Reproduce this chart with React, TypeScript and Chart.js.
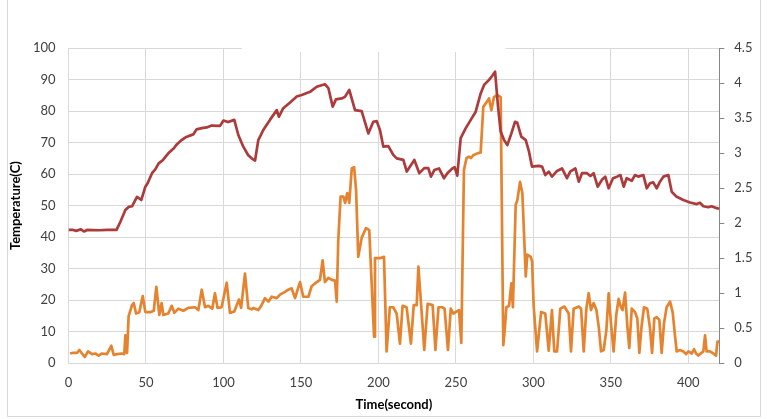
import React, { useEffect, useRef } from "react";
import { Chart, registerables } from "chart.js";

Chart.register(...registerables);

// X axis ticks (seconds)
const xTickValues = [0, 50, 100, 150, 200, 250, 300, 350, 400];

// Temperature series (left axis)
const tempTime = [0, 3, 5, 8, 10, 12, 20, 25, 31, 33.5, 36.7, 38.8, 41, 44.2, 47, 49.6, 51, 53.9, 56, 58.2, 61, 64.4, 68, 70, 73, 76, 80.5, 82.7, 86, 89.2, 92.4, 97.8, 100, 103, 107, 109.6, 112.8, 116, 118.2, 120.4, 122.5, 125.7, 130, 134.4, 135.8, 138.6, 143, 147.3, 150.5, 155.9, 160.2, 165.5, 167.7, 170.5, 172.6, 176.3, 178.4, 181.2, 184.9, 189.2, 193.5, 196.7, 198.9, 201, 203.2, 206.4, 209.6, 211.8, 216.1, 218.3, 220.4, 223.2, 226.4, 229.6, 232.2, 233.9, 236.1, 239.1, 242.3, 244.5, 247.7, 249.2, 250.9, 253.1, 256.3, 259.6, 262.8, 266, 268.2, 271.4, 273.5, 275.3, 277.2, 278.9, 281.1, 283.2, 285.8, 288.2, 289.6, 292.2, 295.1, 297.2, 299.1, 303.4, 305.6, 307.7, 309.9, 312, 315.3, 318.5, 321.7, 323.8, 327.1, 329.3, 331.4, 334.6, 336.8, 338.9, 341.5, 344.3, 346.4, 348.6, 351.4, 354, 356.2, 358.3, 360.2, 363.5, 365.6, 367.7, 371, 373.2, 375.3, 377.4, 379.6, 381.7, 383.9, 387.1, 389.3, 392.5, 396.8, 401.1, 405.4, 407.5, 409.7, 412.9, 415, 418.3, 420];
const tempValue = [42.3, 42.3, 42, 42.5, 41.8, 42.3, 42.2, 42.3, 42.3, 44.9, 48.6, 49.6, 49.8, 52.8, 51.8, 56, 57, 60.3, 61.5, 63.4, 64.5, 66.6, 68.2, 69.5, 70.8, 71.8, 72.6, 74.2, 74.6, 74.8, 75.4, 75.3, 77, 76.5, 77.2, 72.4, 68.7, 66, 65, 64.3, 70.8, 74, 77.2, 80.3, 78.2, 80.9, 82.7, 84.6, 85.1, 86.1, 87.7, 88.5, 87.3, 81.4, 83.7, 84, 84.5, 86.7, 80.3, 80, 72.9, 76.6, 76.8, 74, 68.7, 68.9, 66.1, 65, 64.5, 60.8, 62.4, 64.5, 60.3, 61.9, 61.9, 59.2, 61.3, 61.8, 58.7, 60.3, 61.8, 62.2, 59.5, 71.4, 74.5, 77.2, 79.8, 85.6, 88.3, 89.9, 91.2, 92.5, 81.4, 73.5, 70.8, 69.2, 72.9, 76.6, 76.3, 71.9, 70.8, 67.1, 62.4, 62.6, 62.4, 59.7, 60.8, 59.2, 61, 61.8, 58.7, 60.8, 61.8, 57.6, 60.3, 60.3, 59.4, 60.3, 56, 58.2, 59.2, 55.5, 58.7, 59.2, 59.7, 56, 58.7, 57.9, 59.7, 59.2, 59.7, 55.5, 57.1, 57.4, 55.5, 57.6, 59.2, 59.7, 54.4, 52.8, 51.8, 51, 50.5, 50.9, 49.8, 49.5, 49.8, 49.2, 49];

// Second series (right axis)
const sigTime = [1, 3, 5.5, 7, 8.7, 10.5, 12.6, 15.2, 17.3, 19.5, 21.6, 24.8, 27.6, 29.2, 31.3, 34.5, 36, 36.7, 37.8, 38.8, 41, 42.1, 43.6, 45.7, 47.9, 49.6, 52.8, 55, 56.7, 58.6, 60.1, 61.2, 64.4, 66.6, 68.3, 70.9, 74.1, 77.3, 81.6, 83.8, 86, 88.1, 90.2, 92.8, 94.5, 96.2, 98.8, 102.1, 104.2, 107, 110, 111.4, 113.9, 116, 118.2, 119.3, 122.5, 124.6, 126.8, 129, 131.1, 134.4, 136.5, 139.7, 141.8, 144, 146.2, 149.4, 151.5, 154.8, 156.9, 159.1, 162.3, 164, 165.5, 167.7, 169.9, 172, 173.1, 174.1, 175.6, 177.4, 178.5, 179.9, 181.2, 182.8, 184.3, 185.6, 187, 189.2, 192, 194.1, 197.2, 197.8, 201, 203.6, 205.3, 207.4, 209.6, 211.8, 213.9, 215.6, 218.2, 221, 222.8, 224.7, 225.8, 227.5, 229.6, 231.8, 235, 236.8, 238.8, 241.2, 242.7, 244.9, 246.7, 248.4, 250.5, 252, 253.5, 255.2, 256.9, 258.4, 259.8, 261.2, 263.3, 266, 267.7, 269.9, 271.4, 272.9, 274.6, 276.7, 278.9, 280.6, 281.5, 282.6, 284.3, 285.8, 286.8, 288.6, 289.7, 291.4, 292.9, 295.1, 296.1, 298.3, 299.2, 300.2, 302.4, 305, 307.7, 309.9, 312, 313.5, 315.3, 317.4, 320, 322.8, 324.3, 326, 329.3, 330.8, 332.5, 334.2, 335.7, 337.2, 338.9, 340.7, 342.2, 343.7, 345.4, 347.1, 348.6, 350.1, 351.8, 353.5, 355, 356.5, 357.6, 359.2, 360.7, 361.9, 363.5, 365.6, 367.1, 368.4, 369.8, 371.4, 373.5, 375.3, 376.6, 378.1, 379.6, 381.3, 382.8, 384.3, 386, 388.2, 389.9, 391.4, 392.5, 394.6, 396.8, 398.5, 400, 402.2, 403.7, 405, 406.5, 408, 409.7, 410.8, 411.8, 414, 416.1, 417.9, 418.8, 420];
const sigValue = [0.14, 0.15, 0.15, 0.19, 0.14, 0.09, 0.17, 0.13, 0.14, 0.11, 0.14, 0.13, 0.25, 0.12, 0.13, 0.14, 0.13, 0.4, 0.15, 0.67, 0.83, 0.86, 0.71, 0.73, 0.96, 0.73, 0.73, 0.75, 1.09, 0.69, 0.86, 0.69, 0.71, 0.82, 0.72, 0.78, 0.75, 0.79, 0.8, 0.76, 1.05, 0.8, 0.82, 0.78, 1.0, 0.79, 0.8, 1.15, 0.72, 0.74, 0.91, 0.79, 1.28, 0.79, 0.77, 0.79, 0.76, 0.83, 0.93, 0.88, 0.95, 0.93, 0.98, 1.02, 1.05, 1.07, 0.93, 1.16, 0.95, 0.95, 1.1, 1.14, 1.19, 1.47, 1.16, 1.22, 1.19, 1.18, 0.88, 1.76, 2.38, 2.38, 2.29, 2.43, 2.29, 2.78, 2.8, 2.47, 1.52, 1.79, 1.93, 1.9, 0.38, 1.5, 1.5, 1.52, 0.17, 0.8, 0.8, 0.71, 0.28, 0.82, 0.8, 0.28, 0.83, 0.83, 1.38, 0.86, 0.19, 0.85, 0.83, 0.19, 0.8, 0.8, 0.78, 0.19, 0.78, 0.71, 0.74, 0.76, 0.29, 2.76, 2.93, 2.95, 2.93, 2.97, 2.99, 3.01, 3.66, 3.73, 3.78, 3.61, 3.8, 3.83, 3.8, 0.26, 0.47, 0.8, 0.82, 1.14, 0.8, 2.26, 2.33, 2.59, 2.43, 1.24, 1.55, 1.52, 1.45, 0.82, 0.17, 0.73, 0.71, 0.18, 0.76, 0.17, 0.17, 0.78, 0.81, 0.71, 0.17, 0.78, 0.81, 0.78, 0.17, 0.78, 1.0, 0.76, 0.86, 0.76, 0.52, 0.17, 0.19, 0.47, 1.0, 0.57, 0.17, 0.69, 0.92, 0.8, 0.76, 1.01, 0.52, 0.22, 0.78, 0.73, 0.64, 0.15, 0.52, 0.8, 0.78, 0.5, 0.15, 0.64, 0.66, 0.62, 0.15, 0.57, 0.8, 0.88, 0.73, 0.4, 0.17, 0.19, 0.17, 0.13, 0.17, 0.14, 0.2, 0.14, 0.11, 0.14, 0.17, 0.4, 0.17, 0.17, 0.14, 0.11, 0.31, 0.31];

const FONT = "Lato, 'Liberation Sans', sans-serif";

export default function App() {
  const ref = useRef<HTMLCanvasElement | null>(null);

  useEffect(() => {
    document.body.style.margin = "0";
    const canvas = ref.current;
    if (!canvas) return;

    const frame = {
      id: "frame",
      beforeDraw(chart: any) {
        const c = chart.ctx;
        c.save();
        c.fillStyle = "#ffffff";
        c.fillRect(0, 0, chart.width, chart.height);
        c.strokeStyle = "#d9d9d9";
        c.lineWidth = 1;
        c.beginPath();
        c.moveTo(7.5, 0);
        c.lineTo(7.5, 416.5);
        c.lineTo(760.5, 416.5);
        c.lineTo(760.5, 0);
        c.stroke();
        c.restore();
      },
      beforeDatasetsDraw(chart: any) {
        const c = chart.ctx;
        const xs = chart.scales.x;
        c.save();
        c.fillStyle = "#ffffff";
        c.fillRect(xs.getPixelForValue(112), chart.chartArea.top - 4, xs.getPixelForValue(282) - xs.getPixelForValue(112), 8);
        c.restore();
      },
    };

    const chart = new Chart(canvas, {
      type: "line",
      data: {
        datasets: [
          {
            label: "Temperature",
            data: tempTime.map((t, i) => ({ x: t, y: tempValue[i] })),
            borderColor: "#ad3b3b",
            borderWidth: 2.7,
            pointRadius: 0,
            tension: 0,
            yAxisID: "y",
            borderJoinStyle: "round",
          },
          {
            label: "Signal",
            data: sigTime.map((t, i) => ({ x: t, y: sigValue[i] })),
            borderColor: "#e5832f",
            borderWidth: 2.7,
            pointRadius: 0,
            tension: 0,
            yAxisID: "y1",
            borderJoinStyle: "round",
          },
        ],
      },
      options: {
        animation: false,
        responsive: false,
        maintainAspectRatio: false,
        layout: { padding: { top: 48, left: 0, right: 0, bottom: 0 } },
        plugins: { legend: { display: false }, tooltip: { enabled: false } },
        scales: {
          x: {
            type: "linear",
            min: 0,
            max: 420,
            afterBuildTicks: (s: any) => {
              s.ticks = xTickValues.map((v) => ({ value: v }));
            },
            afterFit: (s: any) => {
              s.height = 55.7;
            },
            grid: { color: "#d9d9d9", drawTicks: false, lineWidth: 1 },
            border: { display: true, color: "#d9d9d9" },
            ticks: { color: "#404040", font: { family: FONT, size: 13 }, padding: 12, maxRotation: 0 },
            title: {
              display: true,
              text: "Time(second)",
              color: "#000000",
              font: { family: FONT, size: 13, weight: "bold" },
              padding: { top: 0, bottom: 6 },
            },
          },
          y: {
            position: "left",
            min: 0,
            max: 100,
            ticks: { stepSize: 10, color: "#404040", font: { family: FONT, size: 13 }, padding: 13 },
            afterFit: (s: any) => {
              s.width = 68.5;
            },
            grid: { color: "#d9d9d9", drawTicks: false },
            border: { display: true, color: "#d9d9d9" },
            title: {
              display: true,
              text: "Temperature(C)",
              color: "#000000",
              font: { family: FONT, size: 13, weight: "bold" },
              padding: { top: 8, bottom: 0 },
            },
          },
          y1: {
            position: "right",
            min: 0,
            max: 4.5,
            ticks: {
              stepSize: 0.5,
              color: "#404040",
              font: { family: FONT, size: 13 },
              padding: 10,
              callback: (v: any) => String(Math.round(Number(v) * 10) / 10),
            },
            afterFit: (s: any) => {
              s.width = 48.7;
            },
            grid: { drawOnChartArea: false, drawTicks: true, tickLength: 5, color: "#868686" },
            border: { display: true, color: "#868686" },
          },
        },
      },
      plugins: [frame],
    } as any);

    return () => chart.destroy();
  }, []);

  return (
    <div style={{ position: "absolute", left: 0, top: 0, width: 768, height: 419 }}>
      <canvas ref={ref} width={768} height={419} style={{ width: 768, height: 419 }} />
    </div>
  );
}
